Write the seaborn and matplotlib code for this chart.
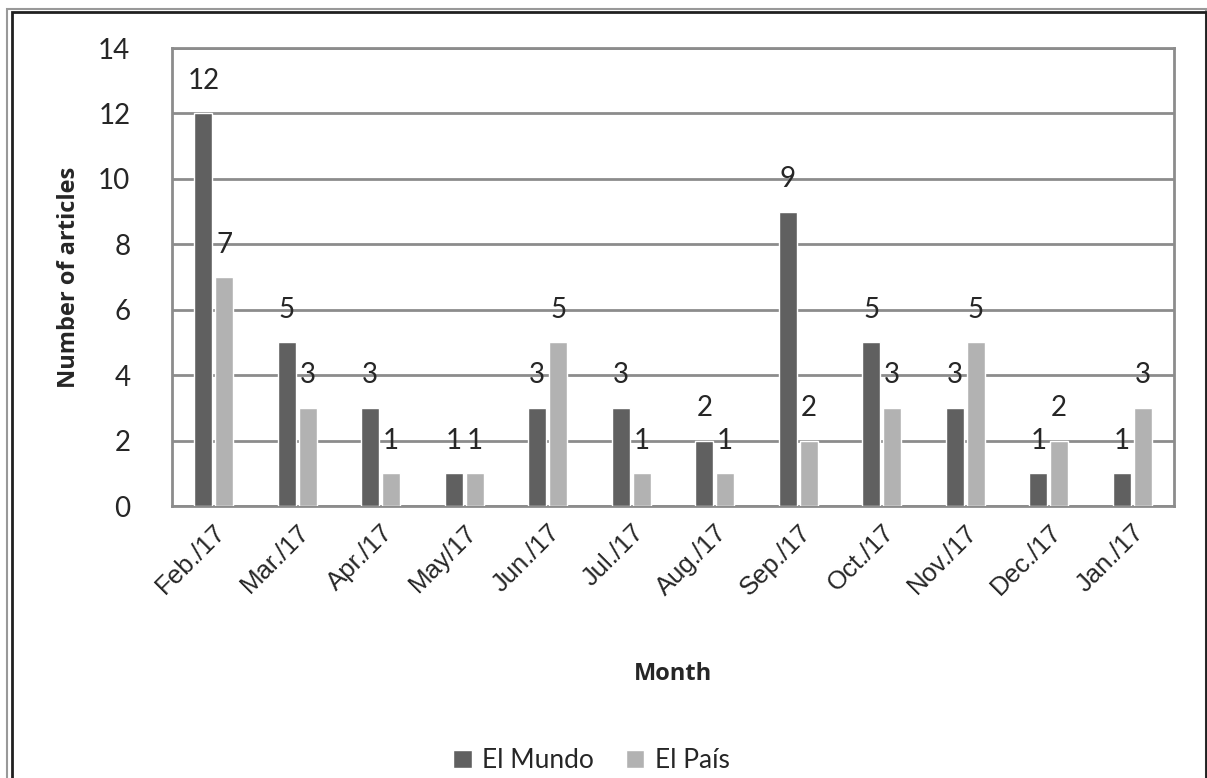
import pandas as pd
import numpy as np
import seaborn as sns
import matplotlib.pyplot as plt
from matplotlib.patches import Rectangle

# Data
months = ['Feb./17', 'Mar./17', 'Apr./17', 'May/17', 'Jun./17', 'Jul./17',
          'Aug./17', 'Sep./17', 'Oct./17', 'Nov./17', 'Dec./17', 'Jan./17']
el_mundo = [12, 5, 3, 1, 3, 3, 2, 9, 5, 3, 1, 1]
el_pais = [7, 3, 1, 1, 5, 1, 1, 2, 3, 5, 2, 3]
series = ['El Mundo', 'El País']

df = pd.DataFrame({
    'Month': months * 2,
    'Articles': el_mundo + el_pais,
    'Paper': [series[0]] * len(months) + [series[1]] * len(months),
})

sns.set_style('white')
plt.rcParams['font.family'] = ['Lato', 'DejaVu Sans']

fig = plt.figure(figsize=(12.07, 7.78), dpi=100)
ax = fig.add_axes([0.1425, 0.3496, 0.8302, 0.5887])

palette = {'El Mundo': '#606060', 'El País': '#b2b2b2'}
sns.barplot(data=df, x='Month', y='Articles', hue='Paper', order=months,
            hue_order=series, palette=palette, width=0.5, gap=0.15,
            saturation=1, ax=ax, zorder=3)

ax.set_ylim(0, 14)
ax.set_yticks(range(0, 15, 2))
ax.yaxis.grid(True, color='#8c8c8c', linewidth=2, zorder=0)
ax.set_axisbelow(True)
for s in ax.spines.values():
    s.set_color('#8c8c8c')
    s.set_linewidth(2)

ax.tick_params(axis='y', labelsize=20, length=0, pad=30)
ax.tick_params(axis='x', length=0, pad=10)
plt.setp(ax.get_xticklabels(), rotation=45, ha='right', rotation_mode='anchor',
         fontsize=18.5, family='Liberation Sans')

ax.set_xlabel('Month', fontsize=17, fontweight='bold', family='Open Sans', labelpad=45)
ax.set_ylabel('Number of articles', fontsize=17, fontweight='bold', family='Open Sans',
              labelpad=12)

# value labels above the bars
for cont in ax.containers:
    ax.bar_label(cont, fontsize=20, padding=14)
ax.legend_.remove()

# legend at the bottom
handles, labels = ax.get_legend_handles_labels()
fig.legend(handles, labels, loc='center', bbox_to_anchor=(0.49, 0.022),
           ncol=2, frameon=False, fontsize=19, handlelength=0.7, handleheight=0.7,
           handletextpad=0.4, columnspacing=1.2)

# outer frame of the chart
fig.patches.append(Rectangle((0.006, -0.01), 0.993, 0.998, transform=fig.transFigure,
                             fill=False, edgecolor='#999999', linewidth=1.5))
fig.patches.append(Rectangle((0.010, -0.01), 0.989, 0.994, transform=fig.transFigure,
                             fill=False, edgecolor='#202020', linewidth=2))

fig.savefig('out.png', dpi=100)
